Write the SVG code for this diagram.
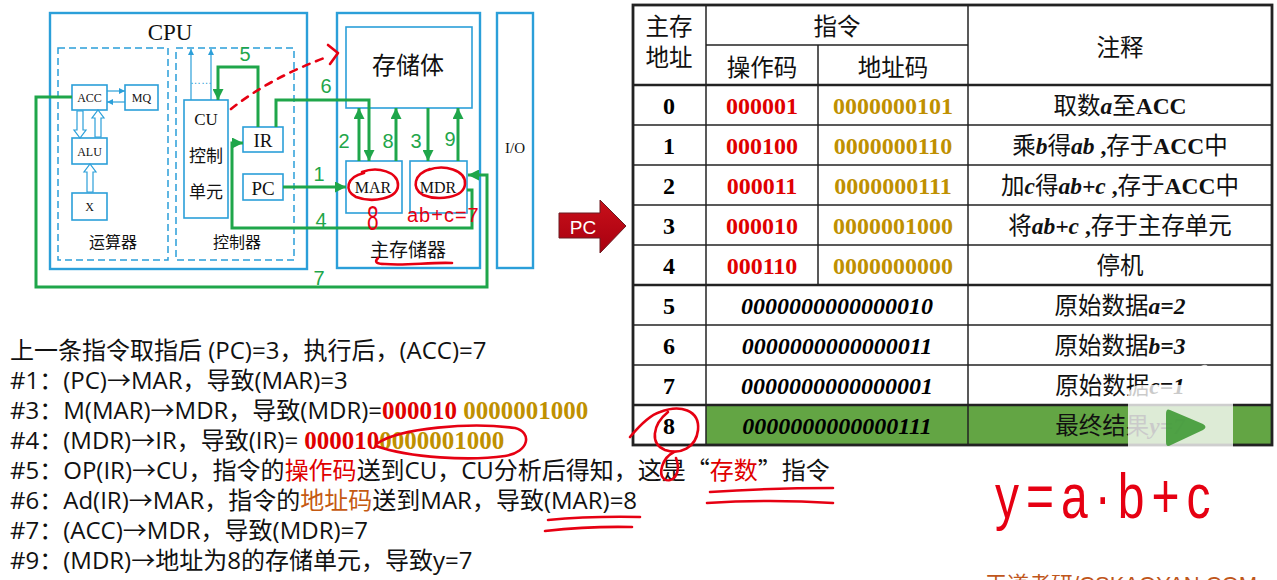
<svg xmlns="http://www.w3.org/2000/svg" width="1277" height="580" viewBox="0 0 1277 580">
<style>
.bx{fill:none;stroke:#2b9fd9;stroke-width:1.6}
.ob{fill:none;stroke:#2b9fd9;stroke-width:2.4}
.dsh{fill:none;stroke:#2b9fd9;stroke-width:1.5;stroke-dasharray:7 4}
.wb{fill:#fff;stroke:#2b9fd9;stroke-width:1.6}
.sf{font-family:"Liberation Serif","Noto Sans CJK SC",serif;fill:#111}
.g{fill:none;stroke:#1fa64a;stroke-width:3}
.gl{font-family:"Liberation Sans",sans-serif;font-size:20px;fill:#1fa64a}
.th{fill:none;stroke:#2b9fd9;stroke-width:1.2}
.ha{fill:#fff;stroke:#2b9fd9;stroke-width:1.2}
.rd{fill:none;stroke:#e60012;stroke-width:2.6;stroke-linecap:round;stroke-linejoin:round}
.hw{font-family:"Liberation Sans",sans-serif;fill:#e60012}
.tl{stroke:#222;stroke-width:1.5}
.tk{stroke:#222;stroke-width:2.6}
.tt{font-family:"Liberation Serif","Noto Sans CJK SC",serif;font-size:23.5px;fill:#111;text-anchor:middle}
.num{font-family:"Liberation Serif",serif;font-size:24px;font-weight:bold;text-anchor:middle}
.op{fill:#e00000}
.ad{fill:#bf9000}
.bi{font-weight:bold;font-style:italic}
.b{font-weight:bold}
.ln{font-family:"Open Sans","Noto Sans CJK SC",sans-serif;font-size:24px;fill:#111}
.cj{font-family:"Noto Sans CJK SC",sans-serif}
.sb{font-family:"Liberation Serif",serif;font-weight:bold;font-size:25px}
</style>
<defs>
<marker id="ga" viewBox="0 0 10 10" refX="10" refY="5" markerWidth="11" markerHeight="11" markerUnits="userSpaceOnUse" orient="auto"><path d="M0,0 L10,5 L0,10 z" fill="#1fa64a"/></marker>
<marker id="ba" viewBox="0 0 10 10" refX="10" refY="5" markerWidth="6" markerHeight="6" markerUnits="userSpaceOnUse" orient="auto"><path d="M0,0 L10,5 L0,10 z" fill="#2b9fd9"/></marker>
<linearGradient id="pcg" x1="0" y1="0" x2="0" y2="1"><stop offset="0" stop-color="#c8101a"/><stop offset="1" stop-color="#a80010"/></linearGradient>
</defs>

<!-- CPU -->
<g id="cpu">
<rect class="ob" x="50" y="13" width="257" height="256"/>
<text class="sf" x="170" y="40" font-size="23" text-anchor="middle">CPU</text>
</g>
<g id="alu-unit">
<rect class="dsh" x="58" y="48" width="110" height="212"/>
<text class="sf" x="113" y="248" font-size="16" text-anchor="middle">运算器</text>
</g>
<g id="ctrl-unit">
<rect class="dsh" x="176" y="48" width="118" height="212"/>
<text class="sf" x="237" y="248" font-size="16" text-anchor="middle">控制器</text>
</g>
<g id="acc"><rect class="wb" x="72" y="85" width="35" height="25"/><text class="sf" x="89.5" y="102" font-size="12" text-anchor="middle">ACC</text></g>
<g id="mq"><rect class="wb" x="125" y="85" width="33" height="25"/><text class="sf" x="141.5" y="102" font-size="12" text-anchor="middle">MQ</text></g>
<g id="alu"><rect class="wb" x="72" y="138" width="35" height="26"/><text class="sf" x="89.5" y="156" font-size="12" text-anchor="middle">ALU</text></g>
<g id="x"><rect class="wb" x="72" y="193" width="35" height="27"/><text class="sf" x="89.5" y="211" font-size="12" text-anchor="middle">X</text></g>
<g id="cu"><rect class="wb" x="184" y="100" width="44" height="118"/>
<text class="sf" x="206" y="125" font-size="17" text-anchor="middle">CU</text>
<text class="sf" x="206" y="162" font-size="17" text-anchor="middle">控制</text>
<text class="sf" x="206" y="198" font-size="17" text-anchor="middle">单元</text></g>
<g id="ir"><rect class="wb" x="243" y="127" width="40" height="25"/><text class="sf" x="263" y="147" font-size="19" text-anchor="middle">IR</text></g>
<g id="pc"><rect class="wb" x="243" y="174" width="40" height="26"/><text class="sf" x="263" y="195" font-size="19" text-anchor="middle">PC</text></g>

<!-- main memory -->
<g id="main-memory">
<rect class="ob" x="337" y="13" width="143" height="255"/>
<text class="sf" x="408" y="257" font-size="19" text-anchor="middle">主存储器</text>
</g>
<g id="storage"><rect class="wb" x="346" y="27" width="126" height="81"/><text class="sf" x="408" y="74" font-size="24" text-anchor="middle">存储体</text></g>
<g id="mar"><rect class="wb" x="346" y="161" width="56" height="52"/><text class="sf" x="373" y="193" font-size="16" text-anchor="middle">MAR</text></g>
<g id="mdr"><rect class="wb" x="410" y="161" width="57" height="52"/><text class="sf" x="438" y="193" font-size="16" text-anchor="middle">MDR</text></g>
<g id="io"><rect class="ob" x="497" y="13" width="36" height="255"/><text class="sf" x="515" y="153" font-size="15" text-anchor="middle">I/O</text></g>

<!-- connectors -->
<g id="connectors">
<line class="th" x1="107" y1="91" x2="125" y2="91" marker-end="url(#ba)"/>
<line class="th" x1="125" y1="102" x2="107" y2="102" marker-end="url(#ba)"/>
<polygon class="ha" points="77,111 83,111 83,130 86,130 80,138 74,130 77,130"/>
<polygon class="ha" points="95,137 101,137 101,118 104,118 98,110 92,118 95,118"/>
<polygon class="ha" points="87,192 93,192 93,172 96,172 90,164 84,172 87,172"/>
<line class="th" x1="191" y1="100" x2="191" y2="49" marker-end="url(#ba)"/>
<line class="th" x1="211" y1="100" x2="211" y2="49" marker-end="url(#ba)"/>
<text x="201" y="84" font-family="Liberation Sans,sans-serif" font-size="11" fill="#2b9fd9" text-anchor="middle">……</text>

<path class="g" d="M258,127 V67 H218 V100" marker-end="url(#ga)"/>
<path class="g" d="M276,127 V100 H369 V161" marker-end="url(#ga)"/>
<path class="g" d="M283,187 H346" marker-end="url(#ga)"/>
<path class="g" d="M359,161 V108" marker-end="url(#ga)"/>
<path class="g" d="M396,161 V108" marker-end="url(#ga)"/>
<path class="g" d="M428,108 V161" marker-end="url(#ga)"/>
<path class="g" d="M458,161 V108" marker-end="url(#ga)"/>
<path class="g" d="M467,190 H472 V228 H232 V143 H243" marker-end="url(#ga)"/>
<path class="g" d="M72,97 H36 V287 H487 V175 H468" marker-end="url(#ga)"/>

<text class="gl" x="245" y="61" text-anchor="middle">5</text>
<text class="gl" x="326" y="93" text-anchor="middle">6</text>
<text class="gl" x="319" y="181" text-anchor="middle">1</text>
<text class="gl" x="321" y="227" text-anchor="middle">4</text>
<text class="gl" x="319" y="285" text-anchor="middle">7</text>
<text class="gl" x="344" y="148" text-anchor="middle">2</text>
<text class="gl" x="388" y="148" text-anchor="middle">8</text>
<text class="gl" x="416" y="148" text-anchor="middle">3</text>
<text class="gl" x="450" y="146" text-anchor="middle">9</text>

<path class="rd" d="M231,109 Q270,78 327,57" stroke-dasharray="7 7"/>
<path class="rd" d="M328,45 L338,53 L330,64"/>
</g>

<!-- handwritten annotations on diagram -->
<g id="annotations-left">
<path class="rd" d="M362,172 C378,166 398,172 398,185 C398,199 372,203 356,197 C344,191 346,177 364,173"/>
<path class="rd" d="M428,170 C444,164 466,170 465,184 C464,198 438,201 423,195 C411,188 414,174 430,169"/>
<text class="hw" font-size="32" transform="translate(367,230) scale(0.65,1.1)">8</text>
<text class="hw" x="407" y="222" font-size="20" letter-spacing="1">ab+c=7</text>
<path class="rd" d="M378,258 Q372,264 385,264 C405,266 430,262 452,263"/>
</g>

<!-- PC arrow -->
<g id="pc-arrow">
<polygon points="559,213 600,213 600,200 626,226 600,253 600,238 559,238" fill="url(#pcg)" stroke="#6b1c22" stroke-width="1"/>
<text x="583" y="234" font-family="Liberation Sans,sans-serif" font-size="19" fill="#fff" text-anchor="middle">PC</text>
</g>

<!-- table -->
<g id="table">
<rect x="706" y="405" width="566" height="40" fill="#63a544"/>
<line class="tl" x1="706" y1="45" x2="968" y2="45"/>
<line class="tk" x1="633" y1="85" x2="1272" y2="85"/>
<line class="tl" x1="633" y1="125" x2="1272" y2="125"/>
<line class="tl" x1="633" y1="165" x2="1272" y2="165"/>
<line class="tl" x1="633" y1="205" x2="1272" y2="205"/>
<line class="tl" x1="633" y1="245" x2="1272" y2="245"/>
<line class="tk" x1="633" y1="285" x2="1272" y2="285"/>
<line class="tl" x1="633" y1="325" x2="1272" y2="325"/>
<line class="tl" x1="633" y1="365" x2="1272" y2="365"/>
<line class="tk" x1="633" y1="405" x2="1272" y2="405"/>
<line class="tl" x1="706" y1="5" x2="706" y2="445"/>
<line class="tl" x1="818" y1="45" x2="818" y2="285"/>
<line class="tl" x1="968" y1="5" x2="968" y2="445"/>
<rect x="633" y="5" width="639" height="440" fill="none" stroke="#222" stroke-width="2.8"/>

<text class="tt" x="669" y="35">主存</text>
<text class="tt" x="669" y="66">地址</text>
<text class="tt" x="837" y="35">指令</text>
<text class="tt" x="762" y="76">操作码</text>
<text class="tt" x="893" y="76">地址码</text>
<text class="tt" x="1120" y="56">注释</text>

<text class="num" x="669" y="114">0</text>
<text class="num" x="669" y="154">1</text>
<text class="num" x="669" y="194">2</text>
<text class="num" x="669" y="234">3</text>
<text class="num" x="669" y="274">4</text>
<text class="num" x="669" y="314">5</text>
<text class="num" x="669" y="354">6</text>
<text class="num" x="669" y="394">7</text>
<text class="num" x="669" y="434">8</text>

<text class="num op" x="762" y="114">000001</text>
<text class="num op" x="762" y="154">000100</text>
<text class="num op" x="762" y="194">000011</text>
<text class="num op" x="762" y="234">000010</text>
<text class="num op" x="762" y="274">000110</text>
<text class="num ad" x="893" y="114">0000000101</text>
<text class="num ad" x="893" y="154">0000000110</text>
<text class="num ad" x="893" y="194">0000000111</text>
<text class="num ad" x="893" y="234">0000001000</text>
<text class="num ad" x="893" y="274">0000000000</text>

<text class="num" x="837" y="314" font-style="italic">0000000000000010</text>
<text class="num" x="837" y="354" font-style="italic">0000000000000011</text>
<text class="num" x="837" y="394" font-style="italic">0000000000000001</text>
<text class="num" x="837" y="434" font-style="italic">0000000000000111</text>

<text class="tt" x="1120" y="114">取数<tspan class="bi">a</tspan>至<tspan class="b">ACC</tspan></text>
<text class="tt" x="1120" y="154">乘<tspan class="bi">b</tspan>得<tspan class="bi">ab</tspan><tspan class="b"> ,</tspan>存于<tspan class="b">ACC</tspan>中</text>
<text class="tt" x="1120" y="194">加<tspan class="bi">c</tspan>得<tspan class="bi">ab+c</tspan><tspan class="b">  ,</tspan>存于<tspan class="b">ACC</tspan>中</text>
<text class="tt" x="1120" y="234">将<tspan class="bi">ab+c</tspan><tspan class="b"> ,</tspan>存于主存单元</text>
<text class="tt" x="1120" y="274">停机</text>
<text class="tt" x="1120" y="314">原始数据<tspan class="bi">a=2</tspan></text>
<text class="tt" x="1120" y="354">原始数据<tspan class="bi">b=3</tspan></text>
<text class="tt" x="1120" y="394">原始数据<tspan class="bi">c=1</tspan></text>
<text class="tt" x="1120" y="434">最终结果<tspan class="bi">y=7</tspan></text>
</g>

<!-- video overlay -->
<g id="player-overlay">
<path d="M1183,386 L1201,366 Q1208,362 1209,370 L1213,386 Z" fill="#fff" fill-opacity="0.8"/>
<rect x="1128" y="385" width="105" height="83" rx="12" fill="#fff" fill-opacity="0.78"/>
<path d="M1170,410 Q1166,408 1166,414 L1166,442 Q1166,448 1171,445 L1203,430 Q1208,427 1203,424 Z" fill="#3f9a35" fill-opacity="0.9"/>
</g>

<!-- bottom text -->
<g id="notes">
<text class="ln" x="10" y="359">上一条指令取指后 (PC)=3，执行后，(ACC)=7</text>
<text class="ln" x="10" y="389">#1：(PC)→MAR，导致(MAR)=3</text>
<text class="ln" x="10" y="419">#3：M(MAR)→MDR，导致(MDR)=<tspan class="sb" fill="#e00000">000010</tspan><tspan class="sb" fill="#bf9000"> 0000001000</tspan></text>
<text class="ln" x="10" y="449">#4：(MDR)→IR，导致(IR)= <tspan class="sb" fill="#e00000">000010</tspan><tspan class="sb" fill="#bf9000">0000001000</tspan></text>
<text class="ln" x="10" y="479">#5：OP(IR)→CU，指令的<tspan fill="#e00000">操作码</tspan>送到CU，CU分析后得知，这是<tspan class="cj">“</tspan><tspan fill="#e00000">存数</tspan><tspan class="cj">”</tspan>指令</text>
<text class="ln" x="10" y="509">#6：Ad(IR)→MAR，指令的<tspan fill="#c55a11">地址码</tspan>送到MAR，导致(MAR)=8</text>
<text class="ln" x="10" y="539">#7：(ACC)→MDR，导致(MDR)=7</text>
<text class="ln" x="10" y="569">#9：(MDR)→地址为8的存储单元，导致y=7</text>
</g>

<!-- handwritten annotations lower -->
<g id="annotations-right">
<path class="rd" d="M378,443 C400,428 470,422 515,428 C532,432 530,452 505,456 C470,461 410,458 376,446"/>
<path class="rd" d="M630,437 C640,425 650,415 660,412 C680,404 700,410 698,430 C696,448 680,455 665,450 C650,444 652,425 668,412"/>
<path class="rd" d="M674,452 C662,458 658,474 664,479 C672,484 682,474 676,458"/>
<path class="rd" d="M548,520 Q590,516 640,517"/>
<path class="rd" d="M545,531 Q590,526 632,527"/>
<path class="rd" d="M710,492 Q770,488 833,488"/>
<path class="rd" d="M707,503 Q770,499 833,503"/>
<text class="hw" font-size="48" letter-spacing="7" transform="translate(995,518) scale(1,1.3)">y=a·b+c</text>
</g>

<g id="watermark">
<text x="985" y="592" font-family="Liberation Sans,Noto Sans CJK SC,sans-serif" font-size="22" fill="#c0561b">王道考研/CSKAOYAN.COM</text>
</g>
</svg>
